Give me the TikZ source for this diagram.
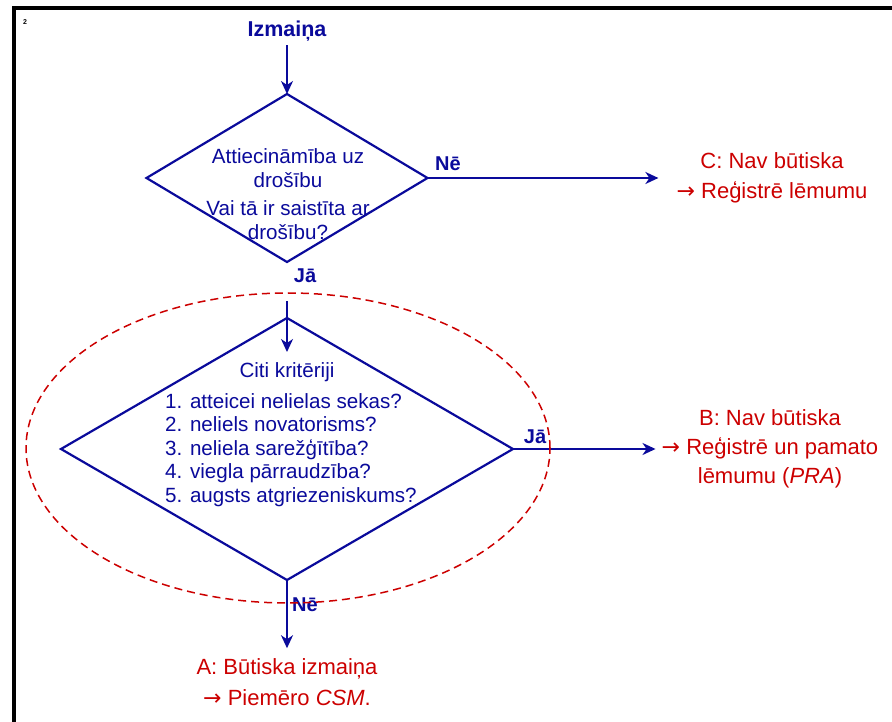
\documentclass[tikz,border=0pt]{standalone}
\usepackage{fontspec}
\setmainfont{Liberation Sans}
\newfontfamily\arrowfont{DejaVu Sans}
\usepackage{tikz}
\usetikzlibrary{shapes.geometric,arrows.meta}
\definecolor{navy}{RGB}{10,10,155}
\definecolor{darkred}{RGB}{204,0,0}
\tikzset{>={Stealth[length=13pt,width=12pt,inset=4pt]}}
\newcommand{\ra}{{\arrowfont →}}

\begin{document}
\begin{tikzpicture}[x=1pt,y=-1pt,
  decision/.style={diamond,draw=navy,line width=2.2pt,inner sep=0pt,outer sep=0pt},
  qtext/.style={text=navy,font=\fontsize{20.6}{24}\selectfont,align=center,inner sep=0pt},
  answer/.style={text=navy,font=\fontsize{20}{24}\selectfont\bfseries,inner sep=0pt},
  result/.style={text=darkred,font=\fontsize{22}{30}\selectfont,align=center,inner sep=0pt},
  flow/.style={->,draw=navy,line width=1.8pt}]

\useasboundingbox (0,0) rectangle (892,722);
\draw[line width=4pt] (14,722)--(14,8)--(892,8);
\node[font=\fontsize{7}{8}\selectfont\bfseries] (pg) at (25,22) {2};

% first question
\node[answer,font=\fontsize{21.5}{24}\selectfont\bfseries] (start) at (287,31) {Izmaiņa};
\node[decision,minimum width=281pt,minimum height=168pt] (d1) at (287,178) {};
\node[qtext] (q1a) at (288,168) {Attiecināmība uz\\drošību};
\node[qtext] (q1b) at (288,220) {Vai tā ir saistīta ar\\drošību?};
\draw[flow] ([yshift=-4pt]start.south) -- (d1.north);

\node[result] (resC) at (772,178) {C: Nav būtiska\\\ra\ Reģistrē lēmumu};
\draw[flow] (d1.east) -- ([xshift=-18pt]resC.west);
\node[answer] (no1) at (448,164) {Nē};
\node[answer] (yes1) at (305,276) {Jā};

% second question
\node[decision,minimum width=452pt,minimum height=262pt] (d2) at (287,449) {};
\coordinate (top2) at (287,301);
\draw[flow] (top2) -- ([yshift=-34pt]d2.north);
\node[qtext] (q2) at (287,372) {Citi kritēriji};
\node[qtext,align=left,anchor=west,font=\fontsize{20.6}{23.5}\selectfont] (crit) at (165,450)
  {1. atteicei nelielas sekas?\\2. neliels novatorisms?\\3. neliela sarežģītība?\\4. viegla pārraudzība?\\5. augsts atgriezeniskums?};

\node[result,font=\fontsize{22}{29}\selectfont] (resB) at (770,449)
  {B: Nav būtiska\\\ra\ Reģistrē un pamato\\lēmumu (\textit{PRA})};
\draw[flow] (d2.east) -- ([xshift=-6pt]resB.west);
\node[answer] (yes2) at (535,437) {Jā};

\node[result,font=\fontsize{22}{31}\selectfont] (resA) at (287,682)
  {A: Būtiska izmaiņa\\\ra\ Piemēro \textit{CSM}.};
\draw[flow] (d2.south) -- ([yshift=10pt]resA.north);
\node[answer] (no2) at (305,605) {Nē};

\draw[darkred,line width=1.5pt,dash pattern=on 8pt off 5pt] (288,448) ellipse [x radius=262pt, y radius=155pt];

\end{tikzpicture}
\end{document}
